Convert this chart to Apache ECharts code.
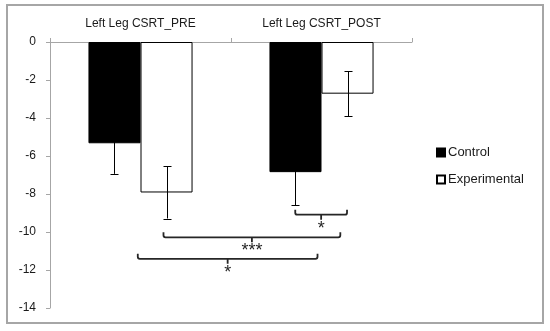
<!DOCTYPE html>
<html>
<head>
<meta charset="utf-8">
<script src="https://cdn.jsdelivr.net/npm/echarts@6/dist/echarts.min.js"></script>
<style>html,body{margin:0;padding:0;background:#fff;}#c{width:550px;height:331px;}</style>
</head>
<body>
<div id="c"></div>
<script>
var categories = ['Left Leg CSRT_PRE', 'Left Leg CSRT_POST'];
var seriesNames = ['Control', 'Experimental'];
var controlValues = [-5.33, -6.85];
var controlErrors = [1.61, 1.75];
var experimentalValues = [-7.92, -2.72];
var experimentalErrors = [1.37, 1.18];
var yTicks = [0, -2, -4, -6, -8, -10, -12, -14];
// significance brackets: x in category units (0..2), y in data units
var bracketX1 = [1.355, 0.627, 0.485];
var bracketX2 = [1.641, 1.604, 1.478];
var bracketY = [-9.09, -10.28, -11.41];
var bracketLabels = ['*', '***', '*'];

var FONT = 'Liberation Sans';
var GAP = 0.425;

var errData = [];
for (var i = 0; i < categories.length; i++) {
  errData.push([i, controlValues[i] - controlErrors[i], controlValues[i] + controlErrors[i], 0]);
  errData.push([i, experimentalValues[i] - experimentalErrors[i], experimentalValues[i] + experimentalErrors[i], 1]);
}
var brData = bracketX1.map(function (x, i) { return [x, bracketX2[i], bracketY[i], bracketLabels[i]]; });

var chart = echarts.init(document.getElementById('c'), null, {renderer: 'canvas'});
chart.setOption({
  animation: false,
  backgroundColor: '#fff',
  textStyle: {fontFamily: FONT},
  graphic: [{
    type: 'rect', shape: {x: 7, y: 5, width: 536, height: 318},
    style: {fill: 'none', stroke: '#a6a6a6', lineWidth: 2}, z: 100
  }],
  grid: {left: 50, right: 138, top: 42, bottom: 23, containLabel: false},
  legend: {
    orient: 'vertical', left: 431, top: 141, itemWidth: 8, itemHeight: 8, itemGap: 14,
    icon: 'rect', data: seriesNames,
    textStyle: {fontFamily: FONT, fontSize: 13, color: '#1a1a1a', padding: [0, 0, 0, -2]}
  },
  xAxis: [{
    type: 'category', data: categories, position: 'top',
    axisLine: {onZero: false, lineStyle: {color: '#a6a6a6', width: 1}},
    axisTick: {show: true, length: 4, lineStyle: {color: '#a6a6a6'}},
    axisLabel: {fontFamily: FONT, fontSize: 12, color: '#1a1a1a', margin: 12},
    splitLine: {show: false}
  }, {
    type: 'value', min: 0, max: 2, show: false, position: 'bottom'
  }],
  yAxis: {
    type: 'value', min: -14, max: 0, interval: 2,
    axisLine: {show: true, lineStyle: {color: '#a6a6a6', width: 1}},
    axisTick: {show: true, length: 4, lineStyle: {color: '#a6a6a6'}},
    axisLabel: {fontFamily: FONT, fontSize: 12, color: '#1a1a1a', margin: 14},
    splitLine: {show: false}
  },
  series: [{
    name: seriesNames[0], type: 'bar', data: controlValues,
    barGap: '0%', barCategoryGap: (GAP * 100) + '%',
    itemStyle: {color: '#000', borderColor: '#000', borderWidth: 1}
  }, {
    name: seriesNames[1], type: 'bar', data: experimentalValues,
    barGap: '0%', barCategoryGap: (GAP * 100) + '%',
    itemStyle: {color: '#fff', borderColor: '#000', borderWidth: 1}
  }, {
    type: 'custom', name: 'err', data: errData, z: 5, silent: true,
    renderItem: function (params, api) {
      var c = api.value(0);
      var lo = api.coord([c, api.value(1)]);
      var hi = api.coord([c, api.value(2)]);
      var band = api.size([1, 0])[0];
      var bw = band * (1 - GAP) / 2;
      var x = lo[0] + (api.value(3) === 0 ? -bw / 2 : bw / 2);
      x = Math.round(x) + 0.5;
      var cap = 4;
      var st = {stroke: '#000', lineWidth: 1};
      return {type: 'group', children: [
        {type: 'line', shape: {x1: x, y1: lo[1], x2: x, y2: hi[1]}, style: st},
        {type: 'line', shape: {x1: x - cap, y1: Math.round(lo[1]) + 0.5, x2: x + cap, y2: Math.round(lo[1]) + 0.5}, style: st},
        {type: 'line', shape: {x1: x - cap, y1: Math.round(hi[1]) + 0.5, x2: x + cap, y2: Math.round(hi[1]) + 0.5}, style: st}
      ]};
    }
  }, {
    type: 'custom', name: 'brackets', data: brData, xAxisIndex: 1, yAxisIndex: 0, z: 6, silent: true,
    renderItem: function (params, api) {
      var p1 = api.coord([api.value(0), api.value(2)]);
      var p2 = api.coord([api.value(1), api.value(2)]);
      var y = p1[1], xa = p1[0], xb = p2[0], xm = (xa + xb) / 2;
      var r = 2, h = 5, t = 5;
      var path = 'M' + xa + ' ' + (y - h) + ' L' + xa + ' ' + (y - r) + ' Q' + xa + ' ' + y + ' ' + (xa + r) + ' ' + y +
        ' L' + (xb - r) + ' ' + y + ' Q' + xb + ' ' + y + ' ' + xb + ' ' + (y - r) + ' L' + xb + ' ' + (y - h) +
        ' M' + xm + ' ' + y + ' L' + xm + ' ' + (y + t);
      var label = brData[params.dataIndex][3];
      return {type: 'group', children: [
        {type: 'path', shape: {pathData: path}, style: {fill: 'none', stroke: '#262626', lineWidth: 1.8}},
        {type: 'text', x: xm, y: y + 5, style: {text: label, fontFamily: FONT, fontSize: 18, fill: '#262626', align: 'center', verticalAlign: 'top'}}
      ]};
    }
  }]
});
</script>
</body>
</html>
